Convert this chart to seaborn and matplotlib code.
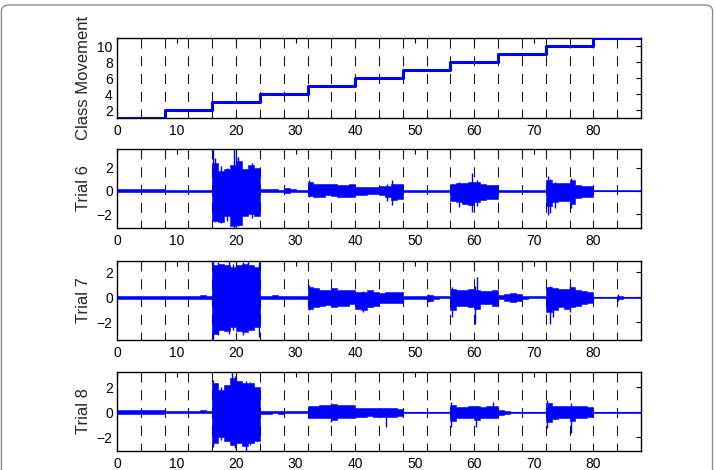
import numpy as np
import pandas as pd
import matplotlib
matplotlib.use("Agg")
import matplotlib.pyplot as plt
import seaborn as sns
from matplotlib.patches import FancyBboxPatch

# ---------------- data ----------------
class_times = [0, 8, 16, 24, 32, 40, 48, 56, 64, 72, 80, 88]
class_values = [1, 2, 3, 4, 5, 6, 7, 8, 9, 10, 11, 11]
marker_times = [4, 8, 12, 16, 20, 24, 28, 32, 36, 40, 44, 48, 52, 56, 60, 64, 68, 72, 76, 80, 84]
x_ticks = [0, 10, 20, 30, 40, 50, 60, 70, 80]
class_yticks = [2, 4, 6, 8, 10]
trial_yticks = [-2, 0, 2]
trial_names = ["Trial 6", "Trial 7", "Trial 8"]
trial_ylims = [(-3.2, 3.6), (-3.4, 2.9), (-3.1, 3.2)]

# per-second signal envelopes (upper / lower), 88 one-second bins
trial6_upper = [0.12, 0.13, 0.12, 0.12, 0.13, 0.12, 0.12, 0.12,
                0.08, 0.08, 0.07, 0.08, 0.08, 0.07, 0.08, 0.08,
                2.4, 1.7, 1.9, 2.2, 2.6, 1.9, 2.2, 2.0,
                0.15, 0.12, 0.12, 0.10, 0.25, 0.12, 0.10, 0.08,
                0.80, 0.60, 0.55, 0.60, 0.55, 0.50, 0.50, 0.55,
                0.35, 0.30, 0.30, 0.35, 0.40, 0.45, 0.60, 0.55,
                0.08, 0.07, 0.08, 0.08, 0.07, 0.08, 0.08, 0.07,
                0.60, 0.65, 0.70, 0.80, 0.75, 0.60, 0.50, 0.50,
                0.07, 0.07, 0.06, 0.07, 0.07, 0.06, 0.07, 0.07,
                0.90, 0.70, 0.65, 0.70, 0.90, 0.50, 0.45, 0.45,
                0.05, 0.05, 0.05, 0.05, 0.05, 0.05, 0.05, 0.05]
trial6_lower = [-0.12, -0.12, -0.13, -0.12, -0.12, -0.13, -0.12, -0.12,
                -0.08, -0.07, -0.08, -0.08, -0.07, -0.08, -0.08, -0.08,
                -2.6, -2.7, -2.2, -3.0, -2.9, -2.2, -2.0, -2.2,
                -0.12, -0.12, -0.10, -0.10, -0.15, -0.10, -0.10, -0.08,
                -0.45, -0.50, -0.50, -0.40, -0.45, -0.50, -0.50, -0.50,
                -0.35, -0.35, -0.30, -0.30, -0.35, -0.50, -0.80, -0.70,
                -0.08, -0.07, -0.08, -0.08, -0.07, -0.08, -0.08, -0.07,
                -0.90, -1.00, -1.10, -1.20, -1.00, -0.80, -0.70, -0.70,
                -0.07, -0.07, -0.06, -0.07, -0.07, -0.06, -0.07, -0.07,
                -1.30, -1.00, -0.90, -0.90, -1.10, -0.60, -0.50, -0.50,
                -0.05, -0.05, -0.05, -0.05, -0.05, -0.05, -0.05, -0.05]
trial7_upper = [0.13, 0.12, 0.12, 0.13, 0.12, 0.12, 0.13, 0.12,
                0.10, 0.10, 0.10, 0.10, 0.10, 0.12, 0.20, 0.12,
                2.6, 2.7, 2.6, 2.4, 2.6, 2.7, 2.6, 2.4,
                0.12, 0.12, 0.15, 0.12, 0.12, 0.12, 0.12, 0.10,
                0.85, 0.75, 0.60, 0.60, 0.75, 0.60, 0.60, 0.60,
                0.40, 0.45, 0.55, 0.45, 0.35, 0.40, 0.40, 0.40,
                0.10, 0.10, 0.10, 0.10, 0.20, 0.10, 0.08, 0.08,
                0.70, 0.60, 0.60, 0.65, 0.60, 0.50, 0.50, 0.60,
                0.15, 0.30, 0.35, 0.30, 0.10, 0.08, 0.08, 0.08,
                0.85, 0.75, 0.65, 0.70, 0.80, 0.60, 0.50, 0.45,
                0.05, 0.05, 0.05, 0.05, 0.10, 0.05, 0.05, 0.05]
trial7_lower = [-0.13, -0.12, -0.12, -0.13, -0.12, -0.12, -0.13, -0.12,
                -0.10, -0.10, -0.10, -0.10, -0.10, -0.12, -0.15, -0.10,
                -2.9, -2.6, -2.7, -2.4, -2.7, -2.8, -2.6, -2.4,
                -0.12, -0.12, -0.13, -0.12, -0.12, -0.12, -0.12, -0.10,
                -0.90, -0.75, -0.65, -0.60, -0.75, -0.65, -0.65, -0.55,
                -0.90, -1.00, -0.80, -0.70, -0.45, -0.45, -0.45, -0.45,
                -0.10, -0.10, -0.10, -0.10, -0.30, -0.10, -0.08, -0.08,
                -1.00, -0.70, -0.65, -0.80, -0.90, -0.55, -0.55, -0.70,
                -0.15, -0.30, -0.35, -0.30, -0.10, -0.08, -0.08, -0.08,
                -1.20, -1.00, -0.80, -0.90, -0.80, -0.65, -0.55, -0.45,
                -0.05, -0.05, -0.05, -0.05, -0.10, -0.05, -0.05, -0.05]
trial8_upper = [0.15, 0.15, 0.13, 0.15, 0.13, 0.15, 0.15, 0.13,
                0.08, 0.08, 0.07, 0.08, 0.08, 0.08, 0.15, 0.08,
                2.3, 1.8, 2.2, 2.7, 2.5, 2.3, 2.3, 2.0,
                0.12, 0.12, 0.10, 0.12, 0.10, 0.10, 0.10, 0.10,
                0.50, 0.50, 0.55, 0.60, 0.65, 0.60, 0.60, 0.55,
                0.35, 0.30, 0.30, 0.30, 0.30, 0.30, 0.30, 0.25,
                0.05, 0.05, 0.05, 0.05, 0.05, 0.05, 0.05, 0.05,
                0.55, 0.40, 0.40, 0.45, 0.45, 0.40, 0.45, 0.50,
                0.20, 0.12, 0.05, 0.05, 0.05, 0.05, 0.05, 0.05,
                0.70, 0.50, 0.45, 0.45, 0.50, 0.50, 0.45, 0.40,
                0.05, 0.05, 0.05, 0.05, 0.05, 0.05, 0.05, 0.05]
trial8_lower = [-0.15, -0.15, -0.13, -0.15, -0.13, -0.15, -0.15, -0.13,
                -0.08, -0.08, -0.07, -0.08, -0.08, -0.08, -0.10, -0.08,
                -2.5, -2.0, -2.3, -2.6, -2.5, -2.7, -2.5, -2.3,
                -0.12, -0.12, -0.10, -0.12, -0.10, -0.10, -0.10, -0.10,
                -0.45, -0.45, -0.50, -0.50, -0.60, -0.50, -0.50, -0.45,
                -0.35, -0.35, -0.30, -0.35, -0.35, -0.40, -0.35, -0.30,
                -0.05, -0.05, -0.05, -0.05, -0.05, -0.05, -0.05, -0.05,
                -0.70, -0.45, -0.45, -0.50, -0.60, -0.45, -0.45, -0.50,
                -0.20, -0.12, -0.05, -0.05, -0.05, -0.05, -0.05, -0.05,
                -0.80, -0.55, -0.45, -0.45, -0.70, -0.45, -0.45, -0.40,
                -0.05, -0.05, -0.05, -0.05, -0.05, -0.05, -0.05, -0.05]

# isolated peaks: time, top, bottom
trial6_spike_t = [16.1, 16.5, 17.4, 18.5, 19.7, 20.0, 20.3, 22.7, 32.2, 45.3, 46.2, 57.5, 59.6, 60.5, 72.3, 72.8, 73.5, 76.2]
trial6_spike_hi = [3.6, 2.8, 2.1, 2.0, 3.6, 3.0, 2.9, 2.4, 0.95, 0.6, 0.9, 0.8, 1.5, 0.9, 1.3, 1.0, 0.8, 1.1]
trial6_spike_lo = [-2.4, -2.7, -2.8, -2.6, -3.2, -2.5, -3.0, -2.3, -0.5, -0.9, -1.2, -1.4, -1.8, -1.3, -2.1, -1.9, -1.5, -1.5]
trial7_spike_t = [16.2, 17.0, 18.8, 19.5, 21.2, 22.0, 23.8, 32.3, 41.3, 52.3, 56.3, 60.2, 60.5, 72.8, 73.3, 76.0, 84.2]
trial7_spike_hi = [2.9, 2.8, 2.9, 2.7, 2.8, 2.9, 2.8, 0.95, 0.5, 0.3, 0.8, 0.9, 1.6, 0.9, 0.7, 1.0, 0.3]
trial7_spike_lo = [-3.4, -3.0, -2.9, -2.6, -3.0, -2.5, -3.2, -1.0, -1.2, -0.4, -1.6, -2.1, -0.8, -2.1, -1.6, -1.2, -0.3]
trial8_spike_t = [16.1, 17.5, 19.3, 19.8, 21.6, 22.4, 36.0, 45.2, 56.1, 60.3, 63.1, 72.2, 76.3]
trial8_spike_hi = [2.6, 2.0, 3.2, 2.9, 2.5, 2.4, 0.75, 0.3, 0.8, 0.5, 0.8, 1.0, 0.7]
trial8_spike_lo = [-2.8, -2.2, -2.4, -2.9, -3.1, -2.6, -0.8, -1.2, -1.2, -1.2, -0.5, -1.3, -1.7]

trials = [
    (trial6_upper, trial6_lower, trial6_spike_t, trial6_spike_hi, trial6_spike_lo),
    (trial7_upper, trial7_lower, trial7_spike_t, trial7_spike_hi, trial7_spike_lo),
    (trial8_upper, trial8_lower, trial8_spike_t, trial8_spike_hi, trial8_spike_lo),
]

# ---------------- style ----------------
sns.set_theme(style="white")
plt.rcParams["font.family"] = ["Liberation Sans", "DejaVu Sans"]
plt.rcParams.update({
    "xtick.direction": "in", "ytick.direction": "in",
    "xtick.top": True, "ytick.right": True,
    "xtick.major.size": 3.5, "ytick.major.size": 3.5,
    "xtick.major.width": 0.8, "ytick.major.width": 0.8,
    "xtick.labelsize": 10, "ytick.labelsize": 10,
    "axes.edgecolor": "black", "axes.linewidth": 1.0,
    "xtick.color": "black", "ytick.color": "black",
    "xtick.major.pad": 4, "ytick.major.pad": 3,
})

BLUE = (0, 0, 1)
fig = plt.figure(figsize=(7.14, 4.70), dpi=100)

left, width = 117 / 714, (641 - 117) / 714
tops_px = [38, 149, 261, 372]
bots_px = [118, 228, 340, 451]
axes = [fig.add_axes([left, 1 - b / 470, width, (b - t) / 470]) for t, b in zip(tops_px, bots_px)]


def draw_markers(ax):
    for xm in marker_times:
        ax.plot([xm, xm], [1, 0], transform=ax.get_xaxis_transform(), color="0.1",
                lw=0.8, linestyle=(0, (9, 7)), zorder=1)


def style_axis(ax):
    ax.set_xlim(0, 88)
    ax.set_xticks(x_ticks)
    ax.set_xticklabels([str(v) for v in x_ticks])
    for s in ax.spines.values():
        s.set_visible(True)
        s.set_color("black")
    ax.yaxis.set_label_coords(-0.05, 0.5)


# top: class movement
ax0 = axes[0]
df_class = pd.DataFrame({"time": class_times, "cls": class_values})
draw_markers(ax0)
sns.lineplot(data=df_class, x="time", y="cls", ax=ax0, drawstyle="steps-post",
             color=BLUE, lw=2.2, zorder=3)
ax0.set_ylim(1, 11)
ax0.set_yticks(class_yticks)
ax0.set_ylabel("Class Movement", fontsize=12)
ax0.set_xlabel("")
style_axis(ax0)

# trials
bin_edges = np.arange(0, 89)
for ax, name, ylim, (up, lo, st, sh, sl) in zip(axes[1:], trial_names, trial_ylims, trials):
    draw_markers(ax)
    up_e = list(up) + [up[-1]]
    lo_e = list(lo) + [lo[-1]]
    ax.fill_between(bin_edges, lo_e, up_e, step="post", color=BLUE, lw=0.4, zorder=2)
    df_sig = pd.DataFrame({"t": bin_edges, "v": [0.0] * len(bin_edges)})
    sns.lineplot(data=df_sig, x="t", y="v", ax=ax, color=BLUE, lw=0.8, zorder=3)
    ax.vlines(st, sl, sh, color=BLUE, lw=1.0, zorder=3)
    ax.set_ylim(*ylim)
    ax.set_yticks(trial_yticks)
    ax.set_yticklabels(["\u22122", "0", "2"])
    ax.set_ylabel(name, fontsize=12)
    ax.set_xlabel("")
    style_axis(ax)

frame = FancyBboxPatch((0.002, -0.2), 0.996, 1 - 5 / 470 + 0.2,
                       boxstyle="round,pad=0,rounding_size=0.012",
                       transform=fig.transFigure, fill=False, edgecolor="0.55", lw=1.0)
fig.patches.append(frame)

fig.savefig("out.png", dpi=100)
